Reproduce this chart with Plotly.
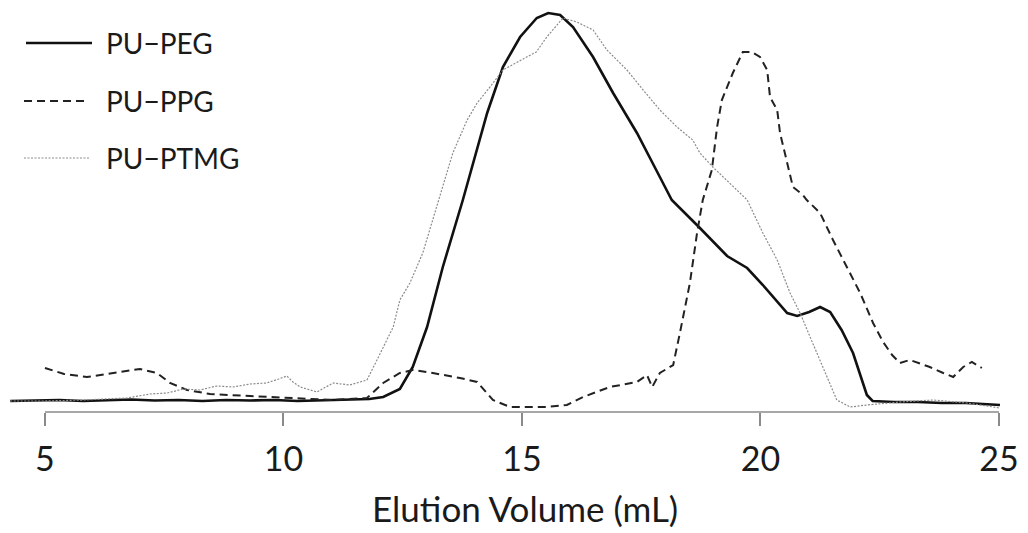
import plotly.graph_objects as go

# ---- data (detector response, arbitrary units) ----
peg_x = [4.27, 4.8, 5.3, 5.8, 6.3, 6.8, 7.3, 7.8, 8.3, 8.8, 9.3, 9.8, 10.3, 10.8, 11.3, 11.8,
         12.09, 12.44, 12.71, 12.90, 13.01, 13.34, 13.76, 14.27, 14.60, 14.96, 15.31, 15.55,
         15.80, 16.07, 16.49, 16.91, 17.41, 17.89, 18.14, 18.73, 19.30, 19.72, 20.05, 20.56,
         20.77, 21.02, 21.25, 21.46, 21.70, 21.94, 22.23, 22.35, 22.8, 23.3, 23.8, 24.3, 24.7, 25.02]
peg_y = [11, 11.5, 12, 11, 12, 12.5, 11.5, 12, 11, 12, 11.5, 12, 11, 11.5, 12, 13,
         15, 23, 45, 70, 85, 145, 212, 299, 345, 375, 394, 399,
         397, 385, 355, 319, 279, 235, 212, 184, 156, 144, 127, 99,
         96, 100, 105, 100, 82, 59, 17, 11, 10, 10, 9, 9, 8, 7]

ppg_x = [5.00, 5.40, 5.88, 6.43, 6.99, 7.35, 7.62, 7.98, 8.46, 9.30, 10.35, 11.04, 11.75, 12.09,
         12.44, 12.71, 13.13, 13.70, 14.06, 14.39, 14.75, 14.96, 15.50, 15.94, 16.28, 16.84,
         17.41, 17.62, 17.73, 17.89, 18.17, 18.31, 18.52, 18.67, 18.79, 18.98, 19.09, 19.19,
         19.42, 19.63, 19.82, 19.99, 20.14, 20.20, 20.35, 20.41, 20.56, 20.68, 20.89, 20.97,
         21.25, 21.52, 21.81, 22.09, 22.36, 22.57, 22.76, 22.92, 23.13, 23.55, 23.83, 24.04,
         24.25, 24.43, 24.64]
ppg_y = [44, 38, 35, 39, 43, 39, 29, 22, 18, 16, 14, 12, 14, 29,
         39, 42, 39, 34, 30, 12, 5, 5, 5, 7, 15, 25,
         30, 37, 25, 39, 47, 79, 129, 179, 212, 242, 285, 312,
         339, 360, 360, 355, 342, 315, 302, 279, 249, 225, 217, 212,
         199, 172, 145, 119, 89, 70, 57, 49, 52, 45, 39, 35,
         45, 50, 44]

ptmg_x = [4.27, 5.0, 5.8, 6.72, 7.2, 7.56, 7.9, 8.25, 8.6, 8.94, 9.3, 9.65, 9.9, 10.07, 10.2,
          10.35, 10.70, 11.04, 11.39, 11.75, 11.96, 12.17, 12.30, 12.44, 12.65, 12.92, 13.28,
          13.55, 13.85, 14.06, 14.33, 14.60, 15.10, 15.30, 15.52, 15.86, 16.15, 16.49, 16.78,
          17.20, 17.54, 17.89, 18.25, 18.58, 18.73, 19.00, 19.57, 19.72, 20.05, 20.35, 20.62,
          20.83, 21.04, 21.25, 21.46, 21.60, 21.88, 22.23, 22.92, 23.62, 24.33, 25.02]
ptmg_y = [11, 11, 12, 14, 18, 19, 23, 22, 26, 25, 28, 29, 33, 36, 30,
          25, 20, 29, 27, 32, 52, 72, 85, 112, 129, 159, 215,
          259, 292, 309, 325, 342, 355, 360, 375, 394, 390, 382, 362,
          342, 322, 302, 285, 272, 259, 245, 219, 212, 179, 152, 119,
          99, 75, 52, 29, 12, 5, 7, 10, 12, 9, 4]

series_names = ["PU\u2212PEG", "PU\u2212PPG", "PU\u2212PTMG"]
x_ticks = [5, 10, 15, 20, 25]
x_title = "Elution Volume (mL)"

FONT = "Lato, 'Open Sans', sans-serif"
TXT = "#1a1a1a"
AX = "#8a8a8a"

styles = [
    dict(color="#111111", width=2.6, dash="solid"),
    dict(color="#222222", width=2.0, dash="8px,5px"),
    dict(color="#8c8c8c", width=1.2, dash="2px,1.5px"),
]

fig = go.Figure()
for name, xs, ys, st in zip(series_names, [peg_x, ppg_x, ptmg_x], [peg_y, ppg_y, ptmg_y], styles):
    fig.add_trace(go.Scatter(x=xs, y=ys, mode="lines", name=name, line=st, showlegend=False))

H_PLOT = 412  # plot area height (px)
W = 1028

# axis line spanning only 5..25
fig.add_shape(type="line", xref="x", yref="paper", x0=x_ticks[0], x1=x_ticks[-1], y0=0, y1=0,
              line=dict(color=AX, width=1.5))

# manual legend
leg_rows = [43, 101, 158]
leg_x0 = [26, 24, 24]
leg_x1 = [92, 88, 90]
for name, st, row, a, b in zip(series_names, styles, leg_rows, leg_x0, leg_x1):
    yp = (H_PLOT - row) / H_PLOT
    fig.add_shape(type="line", xref="paper", yref="paper", x0=a / W, x1=b / W, y0=yp, y1=yp,
                  line=st)
    fig.add_annotation(xref="paper", yref="paper", x=104 / W, y=yp, text=name, showarrow=False,
                       xanchor="left", yanchor="middle", font=dict(family=FONT, size=28, color=TXT))

# axis title
fig.add_annotation(xref="paper", yref="paper", x=525 / W, y=(H_PLOT - 508) / H_PLOT,
                   text=x_title, showarrow=False, xanchor="center", yanchor="middle",
                   borderpad=0, font=dict(family=FONT, size=35, color=TXT))

fig.update_layout(
    width=1028, height=533,
    margin=dict(l=0, r=0, t=0, b=533 - H_PLOT),
    paper_bgcolor="white", plot_bgcolor="white",
    showlegend=False,
    xaxis=dict(range=[4.057, 25.608], tickvals=x_ticks, ticks="outside", ticklen=13,
               tickwidth=1.5, tickcolor=AX, showline=False, showgrid=False, zeroline=False,
               ticklabelstandoff=4,
               tickfont=dict(family=FONT, size=34, color=TXT)),
    yaxis=dict(range=[0, H_PLOT], visible=False, showgrid=False, zeroline=False),
)

fig.write_html("out.html")
